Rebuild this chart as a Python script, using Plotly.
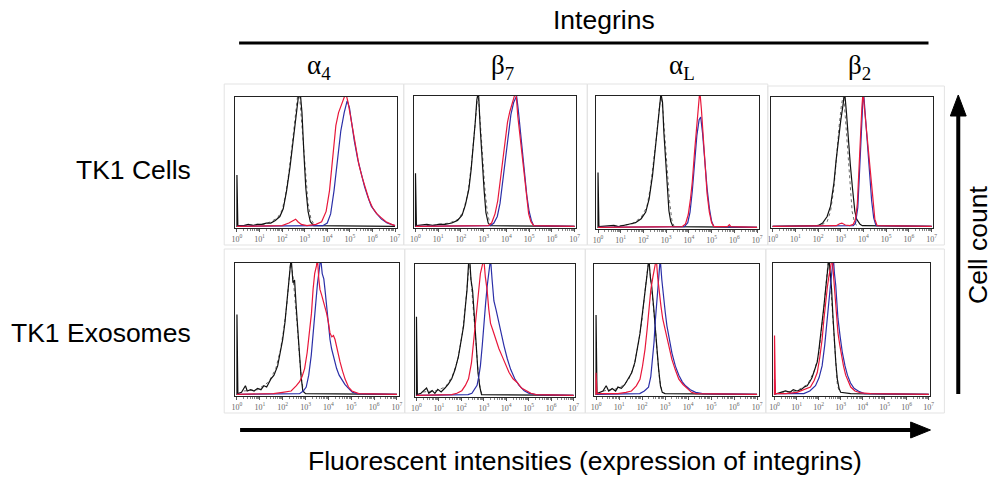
import math
import plotly.graph_objects as go

W, H = 995, 477

COLUMNS = ["α<sub>4</sub>", "β<sub>7</sub>", "α<sub>L</sub>", "β<sub>2</sub>"]
ROWS = ["TK1 Cells", "TK1 Exosomes"]
DECADE_LABELS = ["10<sup>%d</sup>" % d for d in range(8)]

# histogram outlines: (log10 intensity, % of panel height)
# ISO = isotype control (black solid), ISO2 = second control (black dotted)
A4_CELLS_ISO = [(0, 0), (0, 40), (0.04, 1), (0.3, 1), (0.5, 2), (0.7, 1), (0.9, 2), (1.1, 2), (1.3, 3), (1.5, 3), (1.7, 5), (1.9, 8), (2.05, 14), (2.2, 28), (2.35, 46), (2.5, 68), (2.62, 86), (2.72, 100), (2.8, 104), (2.88, 88), (2.97, 55), (3.05, 30), (3.15, 12), (3.25, 4), (3.4, 1), (7, 0.5)]
A4_CELLS_ISO2 = [(0.3, 1), (0.8, 2), (1.2, 2), (1.5, 4), (1.8, 7), (2.0, 13), (2.15, 24), (2.3, 42), (2.45, 64), (2.58, 84), (2.68, 100), (2.76, 104), (2.85, 85), (2.95, 62), (3.05, 38), (3.15, 18), (3.28, 6), (3.45, 1)]
A4_CELLS_BLUE = [(0, 0.5), (3.8, 1), (4.0, 3), (4.15, 10), (4.3, 28), (4.45, 52), (4.6, 74), (4.75, 88), (4.88, 97), (4.98, 92), (5.08, 80), (5.2, 66), (5.35, 52), (5.5, 41), (5.65, 31), (5.8, 23), (5.95, 16), (6.15, 11), (6.4, 6), (6.65, 3), (7, 1)]
A4_CELLS_RED = [(0, 0.5), (2.0, 1), (2.3, 3), (2.5, 5), (2.6, 6), (2.7, 4), (2.85, 2), (3.1, 1), (3.5, 2), (3.75, 4), (3.95, 12), (4.1, 28), (4.25, 55), (4.38, 78), (4.5, 88), (4.62, 93), (4.72, 97), (4.82, 103), (4.92, 96), (5.02, 86), (5.12, 74), (5.25, 60), (5.4, 48), (5.55, 38), (5.7, 29), (5.85, 21), (6.0, 15), (6.2, 10), (6.4, 7), (6.6, 4), (6.85, 2), (7, 1)]

B7_CELLS_ISO = [(0, 0), (0, 41), (0.04, 1), (0.5, 2), (0.8, 1), (1.0, 2), (1.3, 2), (1.6, 3), (1.85, 5), (2.05, 9), (2.2, 17), (2.35, 29), (2.45, 44), (2.55, 62), (2.63, 80), (2.7, 97), (2.77, 104), (2.85, 75), (2.93, 50), (3.02, 28), (3.1, 11), (3.2, 3), (3.3, 1), (7, 0.5)]
B7_CELLS_ISO2 = [(0.5, 1), (1.5, 3), (1.9, 6), (2.1, 12), (2.3, 25), (2.45, 46), (2.58, 70), (2.68, 95), (2.75, 103), (2.85, 80), (2.95, 52), (3.05, 30), (3.15, 13), (3.25, 4), (3.35, 1)]
B7_CELLS_BLUE = [(0, 0.5), (3.3, 1), (3.45, 3), (3.6, 8), (3.72, 18), (3.85, 36), (3.97, 55), (4.08, 72), (4.2, 86), (4.32, 95), (4.45, 100), (4.52, 90), (4.6, 75), (4.7, 56), (4.8, 38), (4.9, 24), (5.0, 12), (5.1, 5), (5.2, 1), (7, 0.5)]
B7_CELLS_RED = [(0, 0.5), (3.2, 1), (3.35, 3), (3.5, 10), (3.62, 20), (3.75, 38), (3.85, 55), (3.95, 68), (4.05, 80), (4.15, 88), (4.25, 95), (4.35, 100), (4.42, 104), (4.5, 85), (4.58, 72), (4.68, 55), (4.78, 38), (4.88, 22), (4.98, 10), (5.08, 4), (5.2, 1), (7, 0.5)]

AL_CELLS_ISO = [(0, 0), (0, 42), (0.04, 1), (0.7, 2), (0.9, 1), (1.1, 2), (1.4, 3), (1.65, 4), (1.9, 7), (2.1, 12), (2.25, 22), (2.4, 40), (2.52, 58), (2.62, 74), (2.7, 90), (2.77, 102), (2.84, 95), (2.9, 72), (2.97, 50), (3.05, 28), (3.12, 13), (3.2, 5), (3.3, 1), (7, 0.5)]
AL_CELLS_ISO2 = [(0.7, 1), (1.5, 3), (1.9, 8), (2.15, 16), (2.3, 30), (2.45, 50), (2.58, 70), (2.7, 92), (2.78, 100), (2.86, 88), (2.95, 66), (3.05, 42), (3.15, 20), (3.25, 6), (3.35, 1)]
AL_CELLS_BLUE = [(0, 0.5), (3.8, 1), (3.95, 4), (4.05, 12), (4.15, 28), (4.25, 50), (4.35, 70), (4.45, 82), (4.52, 84), (4.6, 72), (4.7, 50), (4.8, 30), (4.9, 15), (5.0, 5), (5.1, 1), (7, 0.5)]
AL_CELLS_RED = [(0, 0.5), (3.7, 1), (3.85, 3), (3.97, 10), (4.07, 22), (4.15, 35), (4.25, 58), (4.33, 78), (4.42, 95), (4.48, 104), (4.55, 90), (4.63, 68), (4.72, 45), (4.8, 26), (4.9, 12), (5.0, 4), (5.1, 1), (5.7, 1), (5.78, 2.5), (5.85, 1), (7, 0.5)]

B2_CELLS_ISO = [(0, 0.5), (2.0, 1), (2.2, 3), (2.4, 8), (2.55, 16), (2.7, 34), (2.8, 52), (2.9, 68), (3.0, 82), (3.1, 94), (3.17, 104), (3.25, 88), (3.33, 68), (3.42, 48), (3.52, 29), (3.62, 12), (3.7, 6), (3.77, 4), (3.85, 2), (3.95, 1), (7, 0.5)]
B2_CELLS_ISO2 = [(1.9, 1), (2.2, 2), (2.4, 4), (2.55, 12), (2.7, 30), (2.82, 56), (2.93, 78), (3.03, 94), (3.12, 102), (3.2, 85), (3.3, 58), (3.4, 32), (3.5, 12), (3.6, 4), (3.7, 1)]
B2_CELLS_BLUE = [(0, 0.5), (3.55, 1), (3.65, 3), (3.75, 15), (3.82, 40), (3.9, 72), (3.97, 96), (4.02, 100), (4.1, 80), (4.2, 58), (4.28, 40), (4.36, 20), (4.45, 7), (4.55, 1), (7, 0.5)]
B2_CELLS_RED = [(0, 0.5), (2.8, 1), (2.95, 2.5), (3.05, 3), (3.2, 1.5), (3.4, 1), (3.55, 2), (3.65, 6), (3.73, 18), (3.8, 40), (3.87, 70), (3.93, 92), (3.98, 104), (4.05, 90), (4.12, 76), (4.2, 62), (4.27, 50), (4.35, 32), (4.42, 16), (4.5, 6), (4.6, 1), (7, 0.5)]

A4_EXO_ISO = [(0, 0), (0, 61), (0.04, 1), (0.2, 2), (0.37, 7), (0.45, 3), (0.6, 4), (0.75, 3), (0.9, 5), (1.05, 4), (1.18, 7), (1.3, 6), (1.48, 12), (1.62, 15), (1.78, 22), (1.9, 32), (2.0, 42), (2.1, 55), (2.2, 72), (2.3, 92), (2.37, 104), (2.45, 85), (2.52, 87), (2.6, 65), (2.67, 47), (2.74, 28), (2.8, 15), (2.88, 3), (3.0, 1), (7, 0.5)]
A4_EXO_ISO2 = [(0.3, 3), (0.9, 4), (1.4, 10), (1.7, 20), (1.9, 34), (2.05, 50), (2.18, 68), (2.28, 88), (2.35, 102), (2.45, 90), (2.55, 72), (2.65, 50), (2.73, 30), (2.82, 12), (2.92, 2)]
A4_EXO_BLUE = [(0, 0.5), (2.74, 1), (2.9, 3), (3.03, 6), (3.14, 15), (3.25, 30), (3.34, 48), (3.43, 67), (3.52, 84), (3.6, 95), (3.66, 104), (3.73, 92), (3.8, 88), (3.85, 80), (3.92, 66), (4.0, 52), (4.07, 42), (4.14, 35), (4.25, 27), (4.36, 20), (4.47, 15), (4.58, 12), (4.72, 8), (4.88, 5), (5.05, 2), (5.25, 1), (7, 0.5)]
A4_EXO_RED = [(0, 0.5), (1.6, 1), (2.0, 2), (2.37, 3), (2.6, 7), (2.74, 10), (2.85, 14), (2.96, 20), (3.07, 32), (3.18, 47), (3.26, 62), (3.33, 80), (3.4, 92), (3.48, 98), (3.52, 104), (3.58, 88), (3.63, 80), (3.7, 76), (3.77, 72), (3.85, 66), (3.92, 62), (4.0, 55), (4.07, 47), (4.15, 44), (4.22, 45), (4.29, 42), (4.4, 33), (4.51, 25), (4.62, 18), (4.73, 12), (4.88, 6), (5.03, 3), (5.33, 1), (7, 0.5)]

B7_EXO_ISO = [(0, 0), (0, 60), (0.04, 1), (0.2, 2), (0.45, 6), (0.55, 2), (0.7, 4), (0.82, 2), (0.95, 5), (1.1, 3), (1.27, 6), (1.42, 9), (1.57, 13), (1.72, 20), (1.87, 30), (2.0, 42), (2.1, 53), (2.18, 68), (2.25, 80), (2.32, 100), (2.37, 104), (2.43, 88), (2.5, 80), (2.6, 55), (2.68, 36), (2.74, 18), (2.82, 7), (2.9, 1), (7, 0.5)]
B7_EXO_ISO2 = [(0.3, 3), (0.9, 4), (1.3, 7), (1.6, 15), (1.85, 28), (2.05, 48), (2.2, 72), (2.3, 95), (2.36, 102), (2.45, 84), (2.55, 62), (2.65, 40), (2.75, 18), (2.85, 4), (2.95, 1)]
B7_EXO_BLUE = [(0, 0.5), (2.3, 1), (2.47, 2), (2.6, 5), (2.7, 8), (2.78, 15), (2.85, 23), (2.93, 38), (3.0, 55), (3.08, 70), (3.15, 83), (3.22, 95), (3.3, 104), (3.37, 88), (3.45, 72), (3.55, 65), (3.67, 55), (3.78, 46), (3.9, 38), (4.05, 28), (4.2, 20), (4.38, 13), (4.57, 8), (4.8, 4), (5.02, 2), (5.32, 1), (7, 0.5)]
B7_EXO_RED = [(0, 0.5), (1.57, 1), (1.8, 2), (2.02, 4), (2.18, 8), (2.32, 13), (2.45, 25), (2.55, 43), (2.63, 57), (2.7, 68), (2.78, 82), (2.85, 93), (2.92, 98), (3.0, 104), (3.07, 90), (3.15, 80), (3.22, 66), (3.3, 55), (3.4, 50), (3.52, 43), (3.67, 36), (3.82, 30), (3.97, 24), (4.12, 18), (4.3, 13), (4.5, 10), (4.68, 6), (4.87, 4), (5.1, 2), (5.32, 1), (7, 0.5)]

AL_EXO_ISO = [(0, 0), (0, 61), (0.04, 1), (0.3, 3), (0.44, 7), (0.55, 3), (0.7, 5), (0.85, 3), (0.95, 6), (1.1, 5), (1.25, 8), (1.4, 12), (1.55, 17), (1.69, 25), (1.8, 35), (1.91, 47), (2.0, 60), (2.1, 75), (2.18, 88), (2.25, 98), (2.3, 104), (2.36, 90), (2.42, 83), (2.5, 68), (2.57, 55), (2.65, 35), (2.72, 20), (2.8, 7), (2.88, 2), (3.0, 1), (7, 0.5)]
AL_EXO_ISO2 = [(0.3, 3), (1.0, 5), (1.4, 11), (1.65, 22), (1.85, 40), (2.0, 58), (2.12, 78), (2.22, 96), (2.28, 102), (2.36, 92), (2.46, 74), (2.56, 55), (2.66, 32), (2.76, 12), (2.86, 3)]
AL_EXO_BLUE = [(0, 0.5), (1.9, 1), (2.1, 3), (2.28, 6), (2.38, 14), (2.45, 25), (2.52, 40), (2.57, 55), (2.63, 70), (2.69, 83), (2.74, 95), (2.79, 104), (2.86, 88), (2.94, 73), (3.01, 63), (3.08, 53), (3.18, 42), (3.3, 32), (3.45, 22), (3.6, 15), (3.75, 10), (3.89, 7), (4.1, 4), (4.33, 2), (4.63, 1), (7, 0.5)]
AL_EXO_RED = [(0, 0), (0, 17), (0.04, 1), (0.95, 1), (1.3, 2), (1.54, 3), (1.75, 7), (1.91, 12), (2.02, 22), (2.13, 35), (2.22, 50), (2.3, 68), (2.38, 80), (2.47, 90), (2.55, 96), (2.62, 104), (2.68, 90), (2.75, 78), (2.82, 68), (2.9, 58), (3.0, 50), (3.08, 42), (3.18, 35), (3.3, 27), (3.45, 19), (3.6, 12), (3.78, 8), (3.96, 5), (4.15, 2), (4.33, 1), (7, 0.5)]

B2_EXO_ISO = [(0, 0.5), (0.26, 2), (0.5, 3), (0.7, 2), (0.85, 4), (1.02, 3), (1.2, 4), (1.35, 6), (1.48, 7), (1.6, 10), (1.7, 13), (1.78, 17), (1.86, 21), (1.94, 25), (2.02, 35), (2.09, 47), (2.16, 57), (2.24, 67), (2.3, 77), (2.36, 87), (2.42, 96), (2.47, 104), (2.53, 92), (2.59, 80), (2.65, 60), (2.7, 42), (2.78, 25), (2.85, 12), (2.93, 5), (3.0, 2), (3.46, 1), (7, 0.5)]
B2_EXO_ISO2 = [(0.3, 2), (1.0, 3), (1.5, 8), (1.8, 18), (2.0, 30), (2.15, 50), (2.27, 70), (2.37, 90), (2.44, 102), (2.52, 90), (2.6, 70), (2.68, 45), (2.76, 24), (2.85, 8), (2.95, 2)]
B2_EXO_BLUE = [(0, 0), (0, 12), (0.04, 1), (1.33, 1), (1.6, 3), (1.86, 7), (2.02, 13), (2.16, 22), (2.28, 38), (2.39, 55), (2.47, 70), (2.55, 85), (2.62, 96), (2.67, 104), (2.72, 92), (2.78, 83), (2.83, 70), (2.88, 58), (2.98, 44), (3.08, 32), (3.2, 22), (3.31, 15), (3.45, 9), (3.61, 5), (3.85, 2.5), (4.07, 1), (7, 0.5)]
B2_EXO_RED = [(0, 0), (0, 45), (0.04, 1), (0.5, 1), (1.02, 2), (1.35, 4), (1.63, 6), (1.8, 11), (1.94, 17), (2.05, 28), (2.16, 42), (2.24, 57), (2.32, 72), (2.4, 82), (2.47, 90), (2.55, 98), (2.62, 104), (2.68, 90), (2.73, 80), (2.8, 62), (2.88, 47), (2.96, 38), (3.03, 30), (3.13, 22), (3.23, 15), (3.35, 10), (3.46, 6), (3.65, 3), (3.92, 1.5), (4.37, 1), (7, 0.5)]

PANELS = [
    (A4_CELLS_ISO2, A4_CELLS_ISO, A4_CELLS_BLUE, A4_CELLS_RED),
    (B7_CELLS_ISO2, B7_CELLS_ISO, B7_CELLS_BLUE, B7_CELLS_RED),
    (AL_CELLS_ISO2, AL_CELLS_ISO, AL_CELLS_BLUE, AL_CELLS_RED),
    (B2_CELLS_ISO2, B2_CELLS_ISO, B2_CELLS_BLUE, B2_CELLS_RED),
    (A4_EXO_ISO2, A4_EXO_ISO, A4_EXO_BLUE, A4_EXO_RED),
    (B7_EXO_ISO2, B7_EXO_ISO, B7_EXO_BLUE, B7_EXO_RED),
    (AL_EXO_ISO2, AL_EXO_ISO, AL_EXO_BLUE, AL_EXO_RED),
    (B2_EXO_ISO2, B2_EXO_ISO, B2_EXO_BLUE, B2_EXO_RED),
]

# plot boxes in pixels (left, top, right, bottom)
BOXES = [(233, 97, 396, 228), (413, 96, 577, 228), (597, 96, 761, 229), (773, 97, 937, 228),
         (233, 263, 398, 396), (414, 264, 576, 397), (595, 264, 761, 396), (775, 263, 934, 396)]
# faint scan frames around each panel
FRAMES = [(222, 84, 403, 245), (403, 84, 588, 245), (588, 84, 770, 245), (770, 86, 948, 245),
          (222, 249, 404, 413), (404, 249, 586, 413), (586, 249, 768, 413), (768, 249, 948, 413)]

STYLES = [
    dict(color="#6a6a6a", width=1, dash="dot"),
    dict(color="#111111", width=1.2),
    dict(color="#2b2fa8", width=1.2),
    dict(color="#e8173a", width=1.2),
]

px = lambda v: v / W
py = lambda v: 1 - v / H

MINOR = [d + math.log10(k) for d in range(7) for k in range(2, 10)]

fig = go.Figure()
layout = {}
for i, (box, curves) in enumerate(zip(BOXES, PANELS)):
    n = "" if i == 0 else str(i + 1)
    for pts, st in zip(curves, STYLES):
        fig.add_trace(go.Scatter(
            x=[p[0] for p in pts], y=[p[1] for p in pts], mode="lines",
            line=st, xaxis="x" + n, yaxis="y" + n, hoverinfo="skip", showlegend=False))
    l, t, r, b = box
    layout["xaxis" + n] = dict(
        domain=[px(l), px(r)], range=[-0.08, 7.08], anchor="y" + n,
        showline=True, linecolor="#222", linewidth=1, mirror=True, showgrid=False, zeroline=False,
        tickmode="array", tickvals=list(range(8)), ticktext=DECADE_LABELS,
        ticks="outside", ticklen=3, tickcolor="#555",
        tickfont=dict(size=8, color="#666", family="Liberation Serif"),
        minor=dict(tickvals=MINOR, ticks="outside", ticklen=2, tickcolor="#888"),
    )
    layout["yaxis" + n] = dict(
        domain=[py(b), py(t)], range=[-0.8, 100], anchor="x" + n,
        showline=True, linecolor="#222", linewidth=1, mirror=True, showgrid=False, zeroline=False,
        showticklabels=False, ticks="",
    )

shapes = []
for l, t, r, b in FRAMES:
    shapes.append(dict(type="rect", xref="paper", yref="paper", x0=px(l), x1=px(r), y0=py(b), y1=py(t),
                       line=dict(color="#e3e3e3", width=1)))
# header rule
shapes.append(dict(type="line", xref="paper", yref="paper", x0=px(237), x1=px(932), y0=py(43), y1=py(43),
                   line=dict(color="black", width=3)))
# bottom arrow
shapes.append(dict(type="line", xref="paper", yref="paper", x0=px(238), x1=px(918), y0=py(430), y1=py(430),
                   line=dict(color="black", width=4)))
shapes.append(dict(type="path", xref="paper", yref="paper", fillcolor="black", line=dict(color="black", width=1),
                   path="M %f,%f L %f,%f L %f,%f Z" % (px(914), py(422), px(934), py(430), px(914), py(438))))
# right arrow
shapes.append(dict(type="line", xref="paper", yref="paper", x0=px(962), x1=px(962), y0=py(394), y1=py(114),
                   line=dict(color="black", width=4)))
shapes.append(dict(type="path", xref="paper", yref="paper", fillcolor="black", line=dict(color="black", width=1),
                   path="M %f,%f L %f,%f L %f,%f Z" % (px(954), py(116), px(962), py(95), px(970), py(116))))

sans = "Arial, Liberation Sans, sans-serif"
serif = "Times New Roman, Liberation Serif, serif"
TXT = 26.5
ann = [
    dict(text="Integrins", x=px(605), y=py(20), font=dict(size=TXT, family=sans)),
    dict(text="Fluorescent intensities (expression of integrins)", x=px(586), y=py(461), font=dict(size=TXT, family=sans)),
    dict(text="Cell count", x=px(995), y=py(245), xanchor="right", xshift=4, textangle=-90,
         font=dict(size=TXT, family=sans)),
    dict(text=ROWS[0], x=px(191), y=py(170), xanchor="right", font=dict(size=TXT, family=sans)),
    dict(text=ROWS[1], x=px(191), y=py(333), xanchor="right", font=dict(size=TXT, family=sans)),
]
for cx, lab in zip([318, 503, 683, 862], COLUMNS):
    ann.append(dict(text=lab, x=px(cx), y=py(67), font=dict(size=27, family=serif)))
for a in ann:
    a.update(xref="paper", yref="paper", showarrow=False, yanchor="middle")
    a.setdefault("xanchor", "center")
    a["font"]["color"] = "black"

fig.update_layout(
    width=W, height=H, margin=dict(l=0, r=0, t=0, b=0),
    paper_bgcolor="white", plot_bgcolor="white", showlegend=False,
    shapes=shapes, annotations=ann, **layout,
)
# the page's default body margin would push the fixed-size figure 8px down/right
fig.write_html("out.html", config={"displayModeBar": False},
               post_script="document.body.style.margin='0px';")
